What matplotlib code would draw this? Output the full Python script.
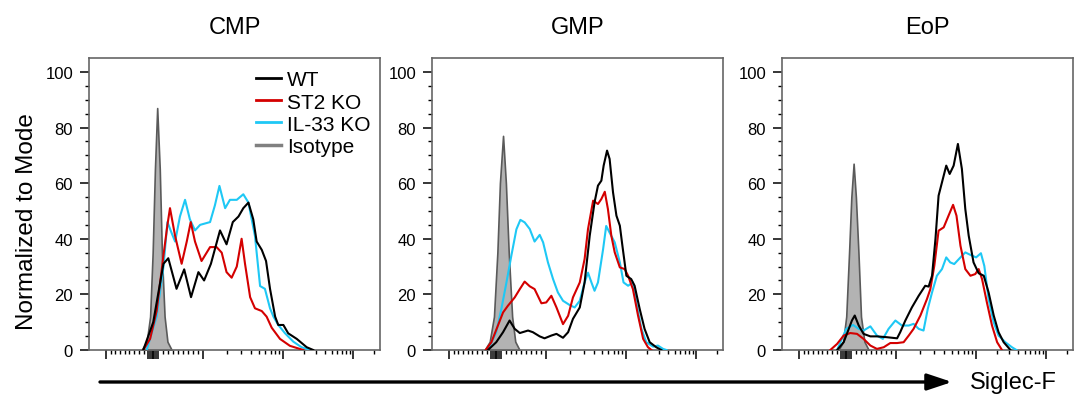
import numpy as np
import matplotlib
matplotlib.use("Agg")
import matplotlib.pyplot as plt
from matplotlib.lines import Line2D

plt.rcParams["font.family"] = ["Liberation Sans", "DejaVu Sans"]

# histogram data, x in display channels (0-1024), y in % of mode
panel_titles = ["CMP", "GMP", "EoP"]
series_labels = ["WT", "ST2 KO", "IL-33 KO", "Isotype"]

cmp_iso_x = [185, 203, 215, 224, 232, 240, 249, 257, 266, 276, 291]
cmp_iso_y = [0, 3, 12, 35, 65, 87, 65, 33, 12, 3, 0]
cmp_wt_x = [191, 226, 262, 279, 308, 335, 359, 385, 405, 429, 461, 484, 506, 526, 543, 561,
            578, 590, 608, 623, 637, 655, 666, 684, 701, 731, 766, 789]
cmp_wt_y = [0, 10, 31, 33, 22, 29, 19, 28, 25, 31, 43, 38, 46, 48, 51, 53,
            47, 39, 36, 32, 22, 12, 9, 9, 6, 4, 1, 0]
cmp_st2_x = [191, 215, 238, 262, 276, 285, 303, 326, 344, 358, 373, 396, 426, 449, 467, 484,
             502, 520, 537, 549, 567, 584, 608, 625, 643, 672, 707, 754]
cmp_st2_y = [0, 4, 14, 34, 45, 51, 41, 31, 39, 46, 39, 32, 37, 37, 35, 28,
             26, 30, 40, 31, 19, 15, 14, 12, 8, 4, 1.5, 0]
cmp_il33_x = [203, 238, 262, 276, 291, 303, 320, 338, 355, 373, 391, 426, 443, 459, 479, 496,
              520, 543, 561, 584, 602, 619, 637, 649, 666, 690, 719, 748, 778]
cmp_il33_y = [0, 12, 30, 46, 42, 39, 48, 54, 47, 43, 45, 46, 52, 59, 51, 54,
              54, 56, 53, 41, 23, 22, 15, 12, 9, 6, 3, 1, 0]

gmp_iso_x = [185, 203, 218, 230, 239, 250, 260, 270, 282, 293, 308]
gmp_iso_y = [0, 3, 12, 35, 60, 77, 60, 35, 12, 3, 0]
gmp_wt_x = [197, 226, 250, 273, 291, 309, 338, 355, 379, 396, 420, 438, 461, 479, 496, 520,
            537, 555, 572, 584, 596, 604, 616, 625, 637, 649, 661, 670, 684, 701, 713, 731,
            748, 766, 789, 807]
gmp_wt_y = [0, 2.8, 6.4, 10.6, 7.6, 6.1, 7.0, 6.4, 4.9, 4.2, 5.2, 5.8, 4.4, 6.4, 11.2, 15.3,
            24.3, 41.1, 53.1, 59.1, 60.9, 66.3, 71.7, 68.7, 56.7, 48.3, 44.7, 37.5, 26.7, 25.5,
            23.1, 14.7, 7.6, 2.8, 1.0, 0]
gmp_st2_x = [189, 209, 232, 250, 267, 291, 309, 326, 344, 361, 385, 402, 420, 438, 461, 479,
             496, 520, 537, 549, 567, 584, 596, 608, 619, 631, 643, 661, 678, 690, 707, 725,
             743, 760, 772]
gmp_st2_y = [0, 2.8, 8.8, 13.5, 15.9, 18.9, 21.9, 24.6, 22.9, 21.9, 16.8, 17.1, 19.5, 15.3,
             9.3, 12.3, 18.9, 24.3, 32.7, 43.5, 53.7, 52.5, 54.3, 56.9, 50.7, 41.1, 35.1,
             29.7, 29.1, 26.7, 21.9, 12.4, 4.0, 1.0, 0]
gmp_il33_x = [197, 226, 244, 262, 279, 297, 311, 326, 344, 361, 379, 391, 408, 426, 443, 461,
              484, 502, 520, 537, 549, 561, 572, 584, 602, 613, 625, 643, 661, 674, 690, 707,
              721, 737, 754, 778, 795, 813, 825]
gmp_il33_y = [0, 6.4, 14.7, 24.3, 33.8, 43.4, 46.8, 45.9, 43.5, 39.0, 41.4, 38.7, 31.5, 25.5,
              20.7, 17.7, 16.2, 15.3, 17.7, 24.3, 27.8, 24.3, 21.3, 24.3, 36.2, 44.6, 42.2,
              38.7, 31.5, 24.3, 23.1, 24.3, 15.9, 7.6, 2.8, 1.2, 1.6, 0.4, 0]

eop_iso_x = [199, 215, 226, 236, 244, 252, 260, 269, 278, 290, 305]
eop_iso_y = [0, 3, 12, 35, 55, 67, 55, 35, 12, 3, 0]
eop_wt_x = [194, 217, 235, 246, 256, 270, 287, 311, 334, 369, 405, 416, 434, 457, 481, 504,
            516, 528, 540, 551, 563, 578, 590, 604, 619, 633, 645, 657, 674, 692, 710, 727,
            745, 762, 780, 804]
eop_wt_y = [0, 2.8, 7.6, 10.6, 12.4, 8.8, 5.8, 4.9, 4.9, 4.6, 4.2, 6.4, 10.6, 15.3, 19.5,
            23.1, 22.8, 26.7, 39.9, 55.5, 60.3, 66.3, 63.3, 66.3, 74.1, 65.1, 50.7, 41.1,
            31.5, 27.6, 26.7, 20.7, 12.4, 6.4, 2.8, 0]
eop_st2_x = [170, 194, 217, 240, 264, 287, 311, 334, 358, 381, 405, 428, 446, 463, 487, 510,
             522, 536, 551, 569, 586, 602, 614, 628, 645, 663, 680, 692, 704, 721, 739, 757,
             774]
eop_st2_y = [0, 2.2, 5.2, 6.1, 5.8, 4.0, 1.6, 0.4, 1.0, 2.5, 2.5, 2.8, 5.2, 7.6, 12.4, 18.3,
             21.9, 30.3, 42.9, 44.1, 48.3, 52.2, 48.3, 37.5, 29.1, 26.7, 27.3, 29.1, 25.5,
             17.1, 8.8, 2.8, 0]
eop_il33_x = [194, 211, 226, 250, 270, 287, 311, 334, 355, 375, 399, 422, 446, 463, 481, 498,
              513, 528, 545, 563, 578, 592, 606, 628, 645, 663, 683, 700, 712, 727, 745, 762,
              786, 809, 825]
eop_il33_y = [0, 4.0, 7.6, 9.0, 7.6, 7.0, 8.5, 5.2, 4.0, 7.6, 10.6, 8.8, 8.8, 9.4, 7.6, 7.0,
              14.8, 20.7, 26.7, 29.1, 33.3, 31.5, 30.9, 33.3, 35.1, 34.2, 33.3, 34.8, 30.2,
              18.3, 9.9, 5.2, 2.8, 1.0, 0]

panels = [
    (cmp_iso_x, cmp_iso_y, cmp_wt_x, cmp_wt_y, cmp_st2_x, cmp_st2_y, cmp_il33_x, cmp_il33_y),
    (gmp_iso_x, gmp_iso_y, gmp_wt_x, gmp_wt_y, gmp_st2_x, gmp_st2_y, gmp_il33_x, gmp_il33_y),
    (eop_iso_x, eop_iso_y, eop_wt_x, eop_wt_y, eop_st2_x, eop_st2_y, eop_il33_x, eop_il33_y),
]

wt_color = "black"
st2_color = "#d40000"
il33_color = "#1ec8f5"
iso_face = "#b3b3b3"
iso_edge = "#5a5a5a"
spine_color = "#666666"


def value_to_channel(v):
    # biexponential-like display: linear around zero, log above 10^3
    v = np.asarray(v, dtype=float)
    lin = np.interp(v, [-1000, 0, 1000], [60, 225, 401])
    logv = np.log10(np.clip(v, 1000, None))
    log_part = 401 + (logv - 3) * 282
    log_part = np.where(logv > 4, 683 + (logv - 4) * 245, log_part)
    return np.where(v > 1000, log_part, lin)


major_vals = [-1000, 1000, 10000, 100000]
zero_cluster = [-100, -60, -30, 0, 30, 60, 100]
minor_vals = ([-900, -800, -700, -600, -500, -400, -300, -200]
              + [200, 300, 400, 500, 600, 700, 800, 900]
              + [k * 1000 for k in range(2, 10)]
              + [k * 10000 for k in range(2, 10)]
              + [200000])

fig = plt.figure(figsize=(10.75, 4.02), dpi=100)

lefts = [89 / 1075, 432 / 1075, 782 / 1075]
width = 291 / 1075
bottom = 1 - 351 / 402
height = 292 / 402

for n, (iso_x, iso_y, wt_x, wt_y, st_x, st_y, il_x, il_y) in enumerate(panels):
    ax = fig.add_axes([lefts[n], bottom, width, height])

    ax.fill_between(iso_x, iso_y, 0, facecolor=iso_face, edgecolor=iso_edge, linewidth=1.2, zorder=2)
    ax.plot(wt_x, wt_y, color=wt_color, linewidth=1.5, zorder=5)
    ax.plot(st_x, st_y, color=st2_color, linewidth=1.5, zorder=4)
    ax.plot(il_x, il_y, color=il33_color, linewidth=1.5, zorder=3)

    ax.set_xlim(0, 1024)
    ax.set_ylim(0, 105)

    # x ticks on the flow cytometry scale
    ax.set_xticks(list(value_to_channel(major_vals)) + list(value_to_channel(zero_cluster)))
    ax.set_xticks(value_to_channel(minor_vals), minor=True)
    ax.set_xticklabels([])
    ax.set_yticks([0, 20, 40, 60, 80, 100])
    ax.set_yticks(np.arange(0, 105, 5), minor=True)
    ax.tick_params(axis="both", which="major", length=6.5, width=1.1, color="black",
                   labelsize=12, pad=5)
    ax.tick_params(axis="both", which="minor", length=3, width=1.0, color="black")

    for s in ax.spines.values():
        s.set_color(spine_color)
        s.set_linewidth(1.2)

    ax.text(0.5, 1 + 31 / 292, panel_titles[n], transform=ax.transAxes,
            ha="center", va="center", fontsize=17)

    if n == 0:
        handles = [Line2D([], [], color=wt_color, lw=2),
                   Line2D([], [], color=st2_color, lw=2),
                   Line2D([], [], color=il33_color, lw=2),
                   Line2D([], [], color="#808080", lw=2.5)]
        ax.legend(handles, series_labels, loc="upper left", bbox_to_anchor=(0.53, 1.0),
                  frameon=False, fontsize=15, handlelength=1.2, handletextpad=0.3,
                  labelspacing=0.15, borderaxespad=0.2)

fig.text(27 / 1075, 1 - 222 / 402, "Normalized to Mode", rotation=90,
         ha="center", va="center", fontsize=17.5)

plt.annotate("", xy=(952 / 1075, 1 - 383 / 402), xytext=(100 / 1075, 1 - 383 / 402),
             xycoords="figure fraction", textcoords="figure fraction",
             arrowprops=dict(arrowstyle="-|>,head_length=0.75,head_width=0.25",
                             lw=2.4, color="black", mutation_scale=20, shrinkA=0, shrinkB=0))
fig.text(970 / 1075, 1 - 383 / 402, "Siglec-F", ha="left", va="center", fontsize=17)

fig.savefig("out.png", dpi=100, facecolor="white")
